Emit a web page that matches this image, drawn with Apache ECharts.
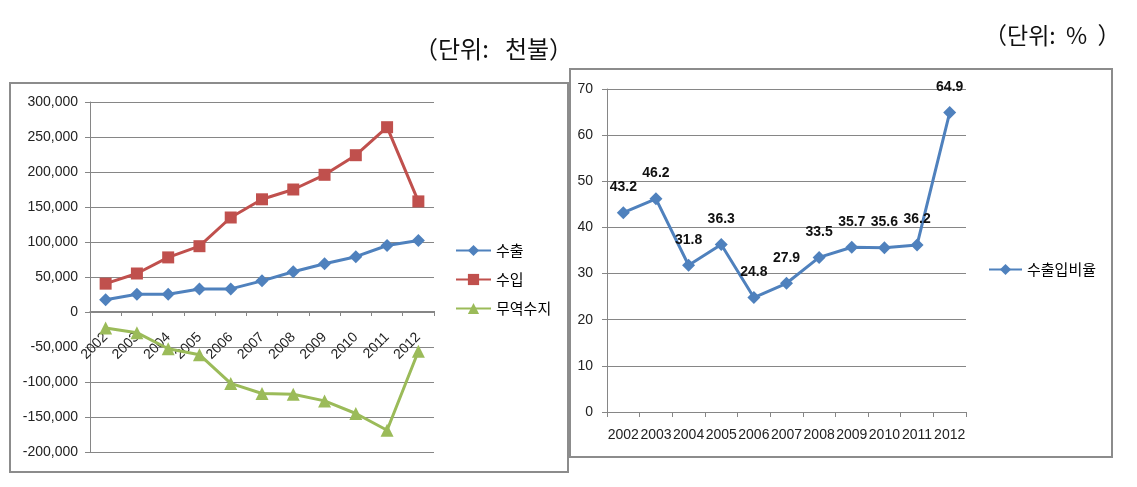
<!DOCTYPE html>
<html><head><meta charset="utf-8">
<script src="https://cdn.jsdelivr.net/npm/echarts@6/dist/echarts.min.js"></script>
<style>html,body{margin:0;padding:0;background:#fff}#c{width:1137px;height:487px}</style>
</head><body><div id="c"></div>
<script>
const years = ['2002','2003','2004','2005','2006','2007','2008','2009','2010','2011','2012'];
const exportVals = [17500, 25500, 25500, 33000, 33000, 44500, 57500, 69000, 79000, 95000, 102000];
const importVals = [40500, 55000, 78000, 94000, 135000, 161000, 175000, 196000, 224000, 264000, 158000];
const balanceVals = [-23000, -29500, -52500, -61000, -102000, -116500, -117500, -127000, -145000, -169000, -56000];
const ratioVals = [43.2, 46.2, 31.8, 36.3, 24.8, 27.9, 33.5, 35.7, 35.6, 36.2, 64.9];
const leftTicks = [-200000, 300000, 50000];
const rightTicks = [0, 70, 10];

const gridColor = '#868686';
const font = 'Liberation Sans, Arial, sans-serif';
const chart = echarts.init(document.getElementById('c'), null, {renderer: 'canvas'});
const axisLabel = {color: '#222', fontSize: 14, fontFamily: font};
const legendText = {fontSize: 15, color: '#000', fontFamily: 'Noto Sans CJK KR'};
chart.setOption({
  animation: false,
  backgroundColor: '#fff',
  graphic: [
    {type: 'rect', z: -10, shape: {x: 10, y: 83, width: 558, height: 389}, style: {fill: '#fff', stroke: '#8c8c8c', lineWidth: 2}},
    {type: 'rect', z: -9, shape: {x: 570, y: 69, width: 542, height: 388}, style: {fill: '#fff', stroke: '#8c8c8c', lineWidth: 2}},
    {type: 'text', x: 414, y: 49, style: {text: '（단위:   천불）', font: '24px "Noto Sans CJK KR"', fill: '#111', verticalAlign: 'middle'}},
    {type: 'text', x: 984, y: 35, style: {text: '（단위:  %  ）', font: '23px "Noto Sans CJK KR"', fill: '#111', verticalAlign: 'middle'}}
  ],
  legend: [
    {orient: 'vertical', left: 450, top: 238, itemWidth: 35, itemHeight: 14, itemGap: 14,
     data: ['수출', '수입', '무역수지'], textStyle: legendText},
    {orient: 'vertical', left: 983, top: 257, itemWidth: 33, itemHeight: 14,
     data: ['수출입비율'], textStyle: legendText}
  ],
  grid: [
    {left: 90, right: 703, top: 102, bottom: 35},
    {left: 607, right: 171, top: 89, bottom: 75}
  ],
  xAxis: [
    {gridIndex: 0, type: 'category', data: years, boundaryGap: true, offset: -141,
     axisLine: {onZero: false, lineStyle: {color: gridColor}},
     axisTick: {show: true, length: 5, lineStyle: {color: gridColor}},
     axisLabel: Object.assign({}, axisLabel, {rotate: 45, interval: 0, margin: 24})},
    {gridIndex: 1, type: 'category', data: years, boundaryGap: true,
     axisLine: {lineStyle: {color: gridColor}},
     axisTick: {show: true, length: 5, lineStyle: {color: gridColor}},
     axisLabel: Object.assign({}, axisLabel, {interval: 0, margin: 16})}
  ],
  yAxis: [
    {gridIndex: 0, type: 'value', min: leftTicks[0], max: leftTicks[1], interval: leftTicks[2],
     axisLine: {show: true, lineStyle: {color: gridColor}},
     axisTick: {show: true, length: 5, lineStyle: {color: gridColor}},
     splitLine: {lineStyle: {color: gridColor}},
     axisLabel: Object.assign({}, axisLabel, {margin: 12,
       formatter: v => v.toLocaleString('en-US')})},
    {gridIndex: 1, type: 'value', min: rightTicks[0], max: rightTicks[1], interval: rightTicks[2],
     axisLine: {show: true, lineStyle: {color: gridColor}},
     axisTick: {show: true, length: 5, lineStyle: {color: gridColor}},
     splitLine: {lineStyle: {color: gridColor}},
     axisLabel: Object.assign({}, axisLabel, {margin: 14})}
  ],
  series: [
    {name: '수출', type: 'line', xAxisIndex: 0, yAxisIndex: 0, data: exportVals,
     symbol: 'diamond', symbolSize: 13, color: '#4F81BD', lineStyle: {width: 3}},
    {name: '수입', type: 'line', xAxisIndex: 0, yAxisIndex: 0, data: importVals,
     symbol: 'rect', symbolSize: 12, color: '#C0504D', lineStyle: {width: 3}},
    {name: '무역수지', type: 'line', xAxisIndex: 0, yAxisIndex: 0, data: balanceVals,
     symbol: 'triangle', symbolSize: 13, color: '#9BBB59', lineStyle: {width: 3}},
    {name: '수출입비율', type: 'line', xAxisIndex: 1, yAxisIndex: 1, data: ratioVals,
     symbol: 'diamond', symbolSize: 13, color: '#4F81BD', lineStyle: {width: 3},
     label: {show: true, position: 'top', distance: 12, fontSize: 14, fontWeight: 'bold', color: '#111', fontFamily: font}}
  ]
});
</script></body></html>
